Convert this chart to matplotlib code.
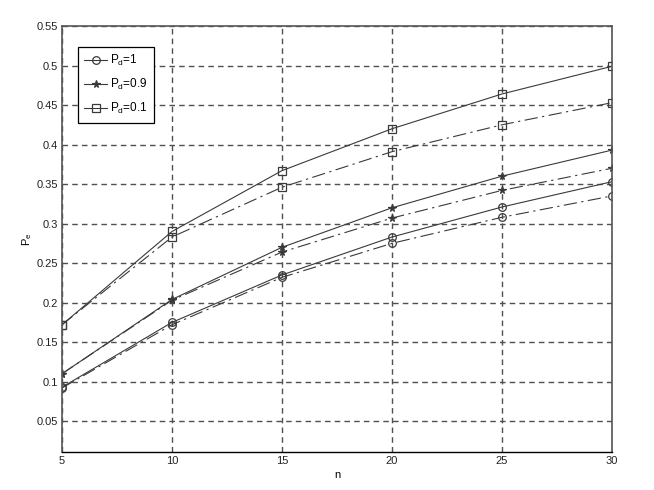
import matplotlib.pyplot as plt
import numpy as np

# data
n = np.array([5, 10, 15, 20, 25, 30])
pe_pd1 = np.array([0.093, 0.175, 0.235, 0.283, 0.321, 0.353])
pe_pd1_b = np.array([0.092, 0.172, 0.232, 0.275, 0.308, 0.335])
pe_pd09 = np.array([0.110, 0.204, 0.270, 0.320, 0.360, 0.393])
pe_pd09_b = np.array([0.110, 0.203, 0.264, 0.307, 0.342, 0.370])
pe_pd01 = np.array([0.172, 0.290, 0.367, 0.420, 0.464, 0.499])
pe_pd01_b = np.array([0.172, 0.283, 0.346, 0.391, 0.425, 0.453])

labels = [r'P$_\mathregular{d}$=1', r'P$_\mathregular{d}$=0.9', r'P$_\mathregular{d}$=0.1']
yticks = [0.05, 0.1, 0.15, 0.2, 0.25, 0.3, 0.35, 0.4, 0.45, 0.5, 0.55]
xticks = [5, 10, 15, 20, 25, 30]

plt.rcParams.update({
    "font.family": "Liberation Sans",
    "font.size": 8,
    "mathtext.fontset": "custom",
    "mathtext.rm": "Liberation Sans",
    "mathtext.it": "Liberation Sans",
})

line_c = '#3a3a3a'
grid_c = '#505050'

fig = plt.figure(figsize=(6.54, 4.90), dpi=100)
ax = fig.add_axes([62 / 654, 1 - 452 / 490, 550 / 654, 426 / 490])

markers = ['o', '*', 's']
solid = [pe_pd1, pe_pd09, pe_pd01]
dashed = [pe_pd1_b, pe_pd09_b, pe_pd01_b]

for m, ys, yd, lab in zip(markers, solid, dashed, labels):
    ax.plot(n, ys, color=line_c, linewidth=0.8, marker=m, markersize=5.5,
            markerfacecolor='none' if m != '*' else line_c,
            markeredgecolor=line_c, markeredgewidth=0.9, label=lab)
    ax.plot(n, yd, color=line_c, linewidth=0.8, linestyle=(0, (12, 4, 2, 4)),
            marker=m, markersize=5.5,
            markerfacecolor='none' if m != '*' else line_c,
            markeredgecolor=line_c, markeredgewidth=0.9)

ax.set_xlim(5, 30)
ax.set_ylim(0.011, 0.55)
ax.set_xticks(xticks)
ax.set_xticklabels([str(x) for x in xticks])
ax.set_yticks(yticks)
ax.set_yticklabels(['0.05', '0.1', '0.15', '0.2', '0.25', '0.3', '0.35', '0.4', '0.45', '0.5', '0.55'])
ax.grid(True, linestyle=(0, (4, 3)), color=grid_c, linewidth=1.0)
ax.tick_params(direction='in', length=0, colors='#222222', labelsize=8, pad=3)

for s in ax.spines.values():
    s.set_color('#555555')
    s.set_linewidth(1.2)
ax.spines['bottom'].set_color('black')
ax.spines['bottom'].set_linewidth(1.0)

ax.set_xlabel('n', fontsize=8, labelpad=3)
ax.set_ylabel(r'P$_\mathregular{e}$', fontsize=8, labelpad=2)

leg = ax.legend(loc='upper left', bbox_to_anchor=(0.029, 0.951), borderaxespad=0,
                fancybox=False, framealpha=1, edgecolor='black', fontsize=8.5,
                handlelength=1.9, handletextpad=0.25, borderpad=0.55, labelspacing=0.75)
leg.get_frame().set_linewidth(0.9)

fig.savefig('out.png', dpi=100)
